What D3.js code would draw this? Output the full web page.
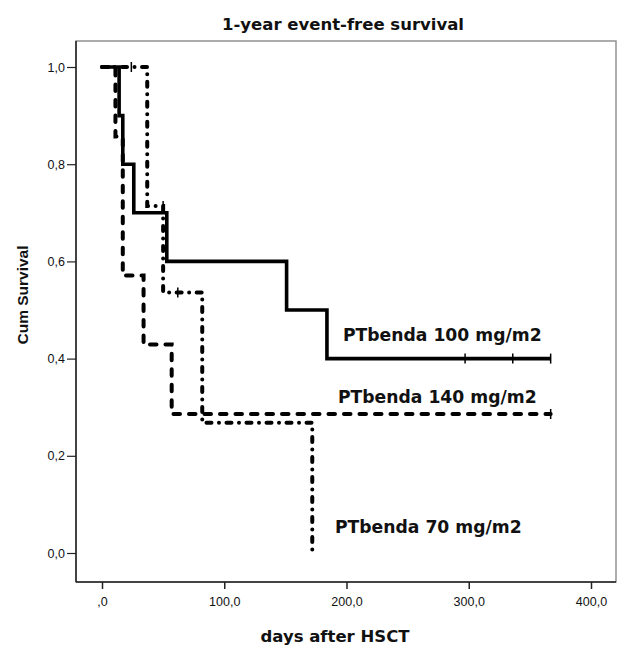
<!DOCTYPE html>
<html><head><meta charset="utf-8">
<script src="https://cdn.jsdelivr.net/npm/d3@7"></script>
<style>body{margin:0;background:#fff}svg{display:block}</style>
</head><body>
<script>
// ---- data ----
const title = "1-year event-free survival";
const xTitle = "days after HSCT";
const yTitle = "Cum Survival";
const groups = ["PTbenda 100 mg/m2", "PTbenda 140 mg/m2", "PTbenda 70 mg/m2"];
const times100 = [0, 14, 17, 26, 53, 151, 184, 367];
const surv100  = [1, 0.9, 0.8, 0.7, 0.6, 0.5, 0.4, 0.4];
const cens100T = [297, 336, 367];
const cens100S = [0.4, 0.4, 0.4];
const times140 = [0, 11, 17, 34, 57, 367];
const surv140  = [1, 0.857, 0.571, 0.429, 0.286, 0.286];
const cens140T = [367];
const cens140S = [0.286];
const times70 = [0, 37, 50, 82, 172];
const surv70  = [1, 0.714, 0.536, 0.268, 0];
const cens70T = [24, 50, 62];
const cens70S = [1, 0.714, 0.536];
const xTicks = [0, 100, 200, 300, 400];
const xTickLabels = [",0", "100,0", "200,0", "300,0", "400,0"];
const yTicks = [0, 0.2, 0.4, 0.6, 0.8, 1.0];
const yTickLabels = ["0,0", "0,2", "0,4", "0,6", "0,8", "1,0"];

// ---- layout ----
const W = 617, H = 649;
const frame = {l: 76, t: 41, r: 616, b: 582};
const svg = d3.select("body").append("svg").attr("width", W).attr("height", H);
const x = d3.scaleLinear().domain([0, 400]).range([102, 591]);
const y = d3.scaleLinear().domain([0, 1]).range([553, 67]);
const boldFont = "DejaVu Sans, Verdana, sans-serif";
const tickFont = "Liberation Sans, Arial, sans-serif";

// frame
svg.append("rect").attr("x", frame.l).attr("y", frame.t)
  .attr("width", frame.r - frame.l).attr("height", frame.b - frame.t)
  .attr("fill", "#fff").attr("stroke", "#8a8a8a").attr("stroke-width", 1.4);

// axes
const xAxis = d3.axisBottom(x).tickValues(xTicks).tickSize(7).tickPadding(8)
  .tickFormat((d, i) => xTickLabels[i]);
const gx = svg.append("g").attr("transform", `translate(0,${frame.b})`).call(xAxis);
gx.select(".domain").attr("d", `M${frame.l},0H${frame.r}`).attr("stroke", "#222").attr("stroke-width", 1.5);
gx.selectAll(".tick line").attr("stroke", "#222").attr("stroke-width", 1.5);
gx.selectAll("text").attr("font-family", tickFont).attr("font-size", 12.5).attr("fill", "#111");

const yAxis = d3.axisLeft(y).tickValues(yTicks).tickSize(9).tickPadding(2)
  .tickFormat((d, i) => yTickLabels[i]);
const gy = svg.append("g").attr("transform", `translate(${frame.l},0)`).call(yAxis);
gy.select(".domain").attr("d", `M0,${frame.t}V${frame.b}`).attr("stroke", "#222").attr("stroke-width", 1.5);
gy.selectAll(".tick line").attr("stroke", "#222").attr("stroke-width", 1.2);
gy.selectAll("text").attr("font-family", tickFont).attr("font-size", 12.5).attr("fill", "#111");

// titles
svg.append("text").attr("x", 343).attr("y", 30).attr("text-anchor", "middle")
  .attr("font-family", boldFont).attr("font-weight", "bold")
  .attr("font-size", 16.5).attr("fill", "#111").text(title);
svg.append("text").attr("x", 335).attr("y", 642).attr("text-anchor", "middle")
  .attr("font-family", boldFont).attr("font-weight", "bold")
  .attr("font-size", 16.5).attr("fill", "#111").text(xTitle);
svg.append("text").attr("transform", "translate(28,295) rotate(-90)").attr("text-anchor", "middle")
  .attr("font-family", tickFont).attr("font-weight", "bold")
  .attr("font-size", 15.5).attr("fill", "#111").text(yTitle);

// curves
const line = d3.line().x(d => x(d[0])).y(d => y(d[1])).curve(d3.curveStepAfter);
const series = [
  {T: times100, S: surv100, cT: cens100T, cS: cens100S, dash: null, w: 3.6},
  {T: times140, S: surv140, cT: cens140T, cS: cens140S, dash: "6.5,9", w: 4},
  {T: times70,  S: surv70,  cT: cens70T,  cS: cens70S,  dash: "5,7.5,0.01,7.5", w: 4}
];
series.forEach(s => {
  const pts = s.T.map((t, i) => [t, s.S[i]]);
  const p = svg.append("path").attr("d", line(pts)).attr("fill", "none")
    .attr("stroke", "#000").attr("stroke-width", s.w);
  if (s.dash) p.attr("stroke-dasharray", s.dash).attr("stroke-linecap", "round");
  svg.selectAll(null).data(s.cT.map((t, i) => [t, s.cS[i]])).enter().append("line")
    .attr("x1", d => x(d[0])).attr("x2", d => x(d[0]))
    .attr("y1", d => y(d[1]) - 5).attr("y2", d => y(d[1]) + 5)
    .attr("stroke", "#000").attr("stroke-width", 1.5);
});

// curve labels
const labelPos = [[343, 341], [338, 403], [335, 533]];
groups.forEach((g, i) => {
  svg.append("text").attr("x", labelPos[i][0]).attr("y", labelPos[i][1])
    .attr("font-family", boldFont).attr("font-weight", "bold")
    .attr("font-size", 17.2).attr("fill", "#111").text(g);
});
</script>
</body></html>
